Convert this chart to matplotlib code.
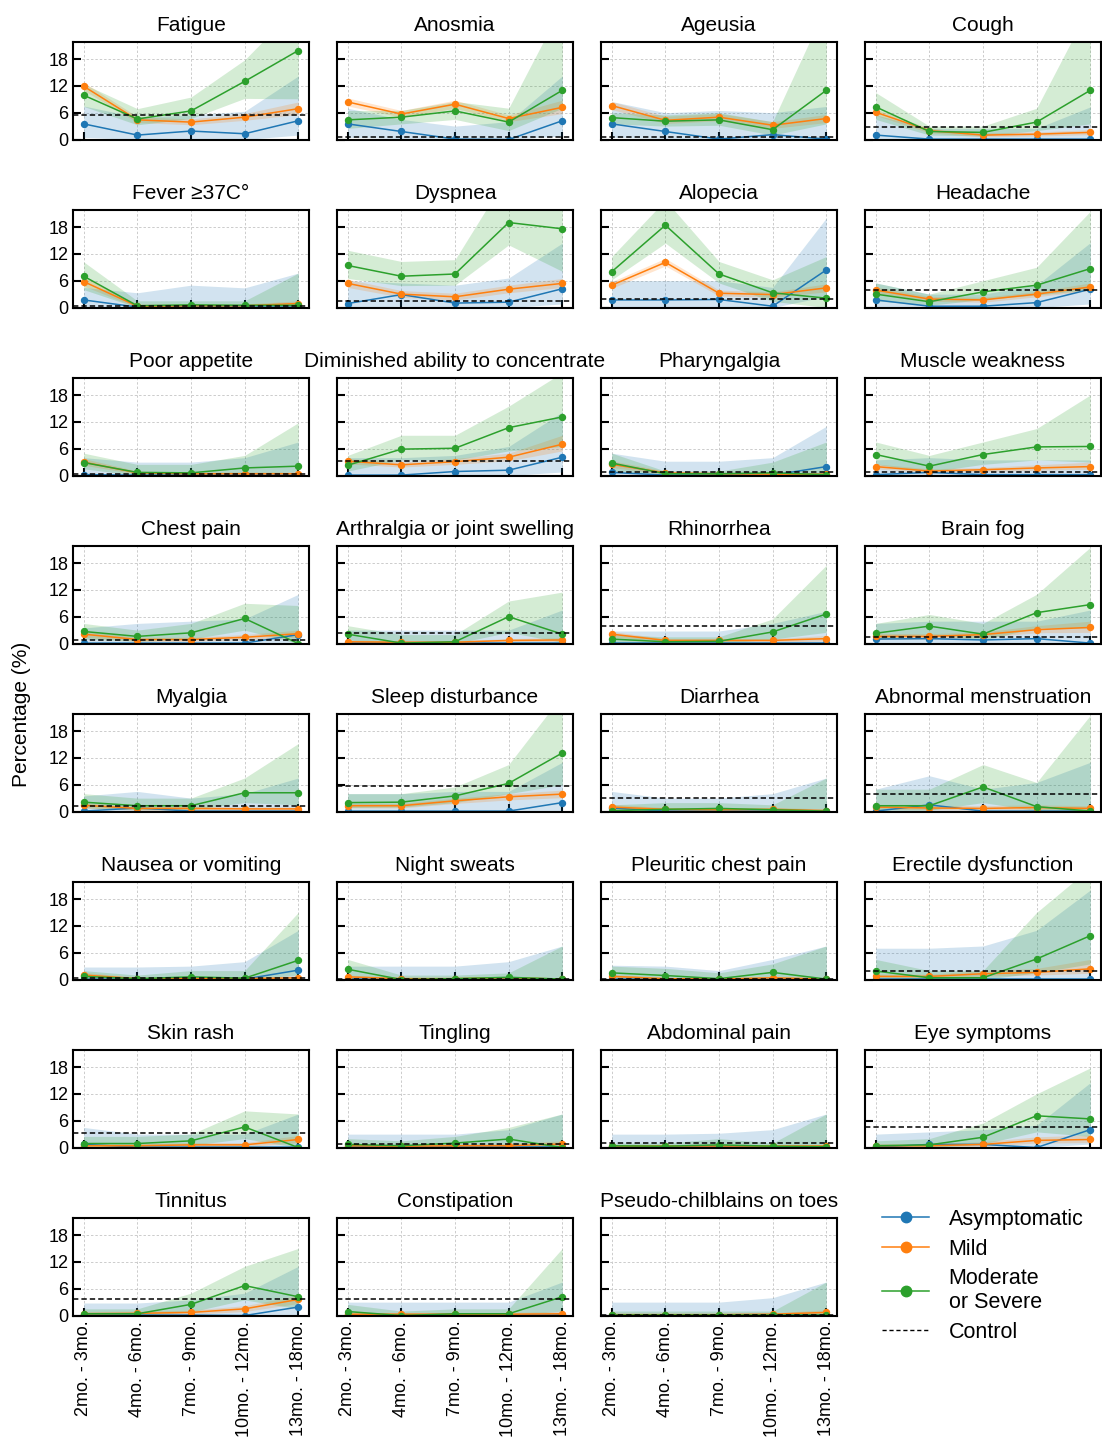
import matplotlib
matplotlib.use("Agg")
import matplotlib.pyplot as plt
from matplotlib.lines import Line2D

plt.rcParams['font.family'] = ['Liberation Sans', 'DejaVu Sans']

PERIODS = ["2mo. - 3mo.", "4mo. - 6mo.", "7mo. - 9mo.", "10mo. - 12mo.", "13mo. - 18mo."]

SYMPTOMS = ["Fatigue", "Anosmia", "Ageusia", "Cough",
            "Fever ≥37C°", "Dyspnea", "Alopecia", "Headache",
            "Poor appetite", "Diminished ability to concentrate", "Pharyngalgia", "Muscle weakness",
            "Chest pain", "Arthralgia or joint swelling", "Rhinorrhea", "Brain fog",
            "Myalgia", "Sleep disturbance", "Diarrhea", "Abnormal menstruation",
            "Nausea or vomiting", "Night sweats", "Pleuritic chest pain", "Erectile dysfunction",
            "Skin rash", "Tingling", "Abdominal pain", "Eye symptoms",
            "Tinnitus", "Constipation", "Pseudo-chilblains on toes"]

CONTROL = [5.4, 0.5, 0.6, 2.7,
           0.4, 1.5, 1.9, 4.0,
           0.3, 3.2, 0.9, 0.9,
           0.9, 2.4, 4.0, 1.4,
           1.3, 5.6, 3.0, 4.0,
           0.4, 0.2, 0.1, 1.9,
           3.2, 0.7, 1.0, 4.7,
           3.6, 3.7, 0.2]

ASYM = [[3.5, 1.0, 1.9, 1.3, 4.2], [3.5, 1.8, 0.1, 0.0, 4.2], [3.5, 1.8, 0.1, 1.1, 0.1], [1.0, 0.1, 0.1, 0.1, 0.1],
        [1.7, 0.1, 0.1, 0.1, 0.1], [0.9, 2.9, 1.0, 1.2, 4.2], [1.7, 1.7, 1.8, 0.3, 8.4], [1.7, 0.3, 0.3, 1.1, 4.1],
        [0.2, 0.1, 0.1, 0.1, 0.1], [0.1, 0.1, 0.9, 1.2, 4.1], [0.7, 0.1, 0.1, 0.1, 2.0], [0.2, 0.7, 0.2, 0.2, 0.2],
        [0.1, 0.1, 0.1, 0.1, 2.0], [0.1, 0.1, 0.1, 0.1, 0.1], [0.1, 0.1, 0.1, 0.1, 0.1], [1.0, 1.1, 0.8, 1.1, 0.1],
        [0.1, 0.8, 0.1, 0.1, 0.1], [0.1, 0.1, 0.1, 0.1, 2.0], [0.8, 0.1, 0.1, 0.1, 0.1], [0.1, 1.5, 0.1, 0.1, 0.1],
        [0.1, 0.1, 0.1, 0.1, 2.1], [0.05, 0.05, 0.05, 0.05, 0.05], [0.05, 0.05, 0.05, 0.05, 0.05], [0.1, 0.1, 0.1, 0.1, 0.1],
        [0.7, 0.1, 0.1, 0.1, 0.1], [0.1, 0.1, 0.1, 0.1, 0.1], [0.05, 0.05, 0.05, 0.05, 0.05], [0.1, 0.7, 0.7, 0.0, 4.0],
        [0.1, 0.1, 0.1, 0.0, 1.9], [0.1, 0.1, 0.1, 0.1, 0.1], [0.05, 0.05, 0.05, 0.05, 0.05]]

ASYM_HI = [[7.5, 5.0, 5.5, 6.3, 14.2], [7.0, 4.5, 3.0, 4.0, 14.2], [8.5, 6.0, 6.5, 6.0, 7.4], [5.5, 2.5, 2.5, 2.5, 7.3],
           [4.5, 3.3, 5.0, 4.4, 7.7], [6.0, 5.5, 5.0, 6.6, 14.4], [6.0, 6.0, 6.0, 4.5, 20.0], [5.5, 3.0, 3.0, 5.0, 14.5],
           [4.0, 3.0, 3.0, 4.0, 7.5], [4.0, 4.0, 4.5, 6.5, 14.2], [5.0, 3.2, 3.2, 4.0, 11.0], [3.5, 4.0, 3.5, 3.5, 3.5],
           [3.5, 4.5, 5.0, 5.5, 11.0], [3.0, 3.0, 3.0, 3.0, 7.5], [2.8, 2.8, 2.8, 4.5, 7.2], [4.5, 5.0, 5.0, 5.0, 7.5],
           [3.5, 4.5, 3.0, 4.0, 7.5], [4.0, 4.0, 4.5, 4.5, 11.0], [4.5, 3.0, 3.0, 4.0, 7.5], [5.0, 8.0, 5.0, 6.5, 11.0],
           [2.8, 2.8, 3.0, 4.0, 11.0], [3.0, 3.0, 3.0, 4.0, 7.5], [3.2, 3.0, 2.0, 4.5, 7.5], [7.0, 7.0, 7.5, 11.0, 20.0],
           [4.5, 3.0, 3.0, 3.0, 7.5], [3.0, 3.0, 3.0, 4.0, 7.5], [3.0, 3.0, 3.2, 4.0, 7.5], [3.0, 3.5, 4.0, 5.0, 14.5],
           [2.8, 2.8, 3.5, 5.0, 11.0], [3.0, 3.0, 3.0, 3.0, 7.5], [3.0, 3.0, 3.0, 4.0, 7.5]]

ASYM_LO = [[0.5, 0.0, 0.2, 0.0, 1.0], [0.5, 0.2, 0.0, 0.0, 0.8], [0.5, 0.2, 0.0, 0.0, 0.0], [0.0, 0.0, 0.0, 0.0, 0.0],
           [0.0, 0.0, 0.0, 0.0, 0.0], [0.0, 0.3, 0.0, 0.0, 0.8], [0.2, 0.2, 0.2, 0.0, 2.5], [0.2, 0.0, 0.0, 0.0, 0.8],
           [0.0, 0.0, 0.0, 0.0, 0.0], [0.0, 0.0, 0.0, 0.0, 0.8], [0.0, 0.0, 0.0, 0.0, 0.2], [0.0, 0.0, 0.0, 0.0, 0.0],
           [0.0, 0.0, 0.0, 0.0, 0.2], [0.0, 0.0, 0.0, 0.0, 0.0], [0.0, 0.0, 0.0, 0.0, 0.0], [0.0, 0.0, 0.0, 0.0, 0.0],
           [0.0, 0.0, 0.0, 0.0, 0.0], [0.0, 0.0, 0.0, 0.0, 0.2], [0.0, 0.0, 0.0, 0.0, 0.0], [0.0, 0.0, 0.0, 0.0, 0.0],
           [0.0, 0.0, 0.0, 0.0, 0.2], [0.0, 0.0, 0.0, 0.0, 0.0], [0.0, 0.0, 0.0, 0.0, 0.0], [0.0, 0.0, 0.0, 0.0, 0.0],
           [0.0, 0.0, 0.0, 0.0, 0.0], [0.0, 0.0, 0.0, 0.0, 0.0], [0.0, 0.0, 0.0, 0.0, 0.0], [0.0, 0.0, 0.0, 0.0, 0.8],
           [0.0, 0.0, 0.0, 0.0, 0.2], [0.0, 0.0, 0.0, 0.0, 0.0], [0.0, 0.0, 0.0, 0.0, 0.0]]

MILD = [[11.9, 4.4, 3.9, 5.0, 6.9], [8.4, 5.7, 7.9, 4.7, 7.2], [7.6, 4.3, 5.0, 3.2, 4.7], [6.1, 2.0, 1.0, 1.2, 1.6],
        [5.8, 0.3, 0.4, 0.4, 0.9], [5.4, 3.0, 2.4, 4.1, 5.4], [5.0, 10.1, 3.2, 2.9, 4.4], [3.9, 1.9, 1.7, 3.0, 4.6],
        [3.0, 0.6, 0.4, 0.4, 0.4], [3.2, 2.4, 3.1, 4.1, 7.0], [2.5, 0.6, 0.4, 0.3, 0.3], [2.0, 1.0, 1.3, 1.7, 2.0],
        [2.1, 0.9, 0.9, 1.4, 2.2], [0.4, 0.3, 0.3, 0.7, 0.8], [2.1, 0.7, 0.7, 0.7, 1.1], [1.6, 1.6, 2.0, 3.1, 3.6],
        [1.4, 0.7, 0.7, 0.6, 0.6], [1.3, 1.3, 2.4, 3.3, 3.9], [1.0, 0.5, 0.4, 0.5, 0.2], [1.0, 0.8, 0.7, 0.9, 0.7],
        [1.0, 0.2, 0.2, 0.2, 0.4], [0.6, 0.2, 0.2, 0.4, 0.1], [0.7, 0.2, 0.1, 0.4, 0.1], [0.7, 0.7, 1.3, 1.6, 2.4],
        [0.4, 0.4, 0.6, 0.6, 1.8], [0.4, 0.3, 0.4, 0.4, 0.8], [0.3, 0.3, 0.3, 0.3, 0.3], [0.4, 0.4, 0.7, 1.6, 1.8],
        [0.4, 0.5, 0.7, 1.5, 3.6], [0.3, 0.3, 0.3, 0.3, 0.4], [0.2, 0.2, 0.2, 0.3, 0.7]]

MILD_HI = [[12.8, 5.1, 4.6, 5.8, 8.4], [9.3, 6.5, 8.8, 5.5, 8.8], [8.5, 5.2, 5.8, 4.0, 5.6], [6.8, 2.5, 1.5, 1.7, 2.2],
           [6.8, 0.8, 0.8, 0.8, 1.5], [6.3, 3.8, 3.2, 5.0, 6.5], [5.8, 11.0, 3.9, 3.5, 5.3], [4.6, 2.5, 2.3, 3.6, 5.5],
           [3.8, 1.0, 0.8, 0.8, 0.8], [3.8, 3.0, 3.8, 5.0, 9.0], [3.3, 1.0, 0.8, 0.7, 0.7], [2.6, 1.5, 1.8, 2.4, 3.0],
           [2.8, 1.4, 1.4, 2.0, 3.0], [0.8, 0.6, 0.6, 1.1, 1.3], [2.7, 1.1, 1.1, 1.1, 1.8], [2.3, 2.2, 2.6, 4.0, 5.0],
           [2.0, 1.1, 1.1, 1.0, 1.0], [1.8, 1.8, 3.0, 4.0, 4.8], [1.6, 0.9, 0.8, 0.9, 0.6], [1.6, 1.4, 1.3, 1.5, 1.3],
           [1.6, 0.5, 0.5, 0.5, 0.8], [1.0, 0.5, 0.5, 0.7, 0.4], [1.1, 0.5, 0.4, 0.7, 0.4], [1.2, 1.2, 2.0, 2.5, 4.5],
           [0.9, 0.9, 1.1, 1.1, 2.7], [0.9, 0.7, 0.8, 0.9, 1.5], [0.6, 0.6, 0.6, 0.6, 0.6], [0.9, 0.9, 1.3, 2.4, 2.8],
           [0.9, 1.0, 1.2, 2.2, 4.5], [0.7, 0.7, 0.7, 0.7, 0.9], [0.5, 0.5, 0.5, 0.6, 1.3]]

MILD_LO = [[11.0, 3.8, 3.3, 4.3, 5.6], [7.5, 5.0, 7.0, 4.0, 5.8], [6.7, 3.6, 4.2, 2.5, 3.8], [5.4, 1.5, 0.6, 0.8, 1.1],
           [4.8, 0.0, 0.1, 0.1, 0.4], [4.5, 2.3, 1.7, 3.3, 4.5], [4.3, 9.3, 2.6, 2.3, 3.5], [3.2, 1.4, 1.2, 2.4, 3.8],
           [2.3, 0.3, 0.2, 0.2, 0.2], [2.6, 1.9, 2.5, 3.3, 5.5], [1.8, 0.3, 0.2, 0.1, 0.1], [1.5, 0.6, 0.9, 1.2, 1.4],
           [1.4, 0.5, 0.5, 0.9, 1.4], [0.1, 0.1, 0.1, 0.4, 0.4], [1.5, 0.3, 0.3, 0.3, 0.6], [1.0, 1.0, 1.4, 2.4, 2.5],
           [0.8, 0.3, 0.3, 0.3, 0.3], [0.8, 0.8, 1.8, 2.6, 3.1], [0.6, 0.2, 0.2, 0.2, 0.05], [0.5, 0.4, 0.3, 0.4, 0.3],
           [0.5, 0.05, 0.05, 0.05, 0.1], [0.3, 0.05, 0.05, 0.1, 0.02], [0.4, 0.05, 0.02, 0.2, 0.02], [0.3, 0.3, 0.8, 1.0, 1.4],
           [0.1, 0.1, 0.2, 0.2, 1.1], [0.1, 0.05, 0.1, 0.1, 0.3], [0.05, 0.05, 0.05, 0.05, 0.05], [0.1, 0.1, 0.3, 1.0, 1.1],
           [0.1, 0.2, 0.3, 0.9, 2.7], [0.05, 0.05, 0.05, 0.05, 0.1], [0.02, 0.02, 0.02, 0.05, 0.3]]

SEV = [[9.9, 4.6, 6.4, 13.0, 19.9], [4.4, 5.0, 6.4, 3.9, 11.0], [4.9, 4.1, 4.4, 2.2, 11.0], [7.3, 1.8, 1.6, 3.9, 11.0],
       [7.0, 0.4, 0.6, 0.5, 0.5], [9.4, 7.0, 7.5, 19.0, 17.6], [8.0, 18.4, 7.5, 3.3, 2.1], [3.0, 1.3, 3.5, 5.0, 8.7],
       [2.9, 0.7, 0.6, 1.7, 2.1], [2.3, 5.9, 6.1, 10.7, 13.1], [2.8, 0.4, 0.4, 0.6, 0.2], [4.7, 2.1, 4.7, 6.4, 6.5],
       [2.7, 1.6, 2.4, 5.6, 0.0], [2.1, 0.1, 0.4, 6.0, 2.1], [1.0, 0.4, 0.5, 2.6, 6.6], [2.3, 3.9, 2.1, 6.9, 8.7],
       [2.1, 1.3, 1.3, 4.2, 4.2], [2.0, 2.1, 3.5, 6.3, 13.1], [0.2, 0.5, 0.7, 0.4, 0.1], [1.3, 1.3, 5.5, 1.1, 0.1],
       [0.7, 0.2, 0.6, 0.3, 4.3], [2.3, 0.0, 0.2, 0.5, 0.1], [1.5, 0.9, 0.2, 1.6, 0.1], [1.9, 0.4, 0.4, 4.6, 9.8],
       [0.9, 0.9, 1.5, 4.6, 0.0], [0.7, 0.4, 1.0, 1.9, 0.0], [0.4, 0.3, 0.6, 0.3, 0.2], [0.4, 0.6, 2.3, 7.1, 6.4],
       [0.4, 0.4, 2.5, 6.7, 4.2], [0.9, 0.0, 0.4, 0.4, 4.2], [0.1, 0.1, 0.1, 0.1, 0.1]]

SEV_HI = [[12.4, 6.9, 9.5, 17.8, 30.0], [6.5, 6.5, 8.5, 7.0, 30.0], [6.0, 5.5, 6.0, 4.0, 30.0], [10.5, 3.0, 3.0, 7.0, 30.0],
          [10.2, 1.5, 1.5, 1.5, 7.7], [12.8, 10.3, 10.7, 30.0, 30.0], [11.4, 24.0, 10.3, 6.2, 11.4], [5.5, 3.0, 6.0, 9.0, 21.5],
          [5.0, 2.5, 2.5, 4.5, 11.8], [4.5, 9.0, 9.0, 15.5, 23.0], [5.0, 1.0, 1.0, 3.0, 7.5], [7.5, 4.5, 7.5, 10.5, 18.0],
          [4.5, 3.0, 4.5, 9.0, 8.5], [4.0, 2.0, 2.0, 9.5, 11.5], [2.0, 1.5, 1.5, 5.5, 17.5], [4.5, 6.5, 4.5, 11.0, 21.5],
          [4.0, 3.0, 3.0, 7.5, 15.2], [4.0, 4.0, 5.5, 10.5, 26.0], [1.5, 2.0, 2.0, 1.5, 7.5], [5.0, 5.0, 10.5, 6.5, 21.5],
          [2.0, 1.0, 2.0, 2.0, 15.0], [4.5, 1.0, 1.0, 1.5, 7.5], [3.0, 2.5, 1.5, 3.5, 7.5], [4.5, 2.0, 2.0, 15.0, 25.0],
          [2.5, 2.5, 3.0, 8.2, 7.5], [2.0, 1.5, 2.5, 4.5, 7.5], [1.0, 1.0, 2.0, 1.0, 7.5], [1.5, 2.0, 5.5, 12.0, 17.8],
          [1.5, 1.5, 5.0, 11.0, 15.0], [2.5, 1.0, 1.5, 1.5, 15.0], [1.0, 1.0, 1.0, 1.0, 7.5]]

SEV_LO = [[7.4, 3.3, 4.7, 9.2, 9.1], [2.5, 3.5, 4.5, 2.0, 7.0], [3.5, 3.0, 3.2, 1.0, 3.5], [4.5, 1.0, 0.8, 2.0, 3.5],
          [4.0, 0.0, 0.0, 0.0, 0.0], [6.5, 4.9, 5.0, 14.0, 8.1], [6.2, 14.4, 5.5, 1.4, 0.0], [1.5, 0.5, 1.8, 2.8, 4.0],
          [1.5, 0.0, 0.0, 0.5, 0.8], [1.0, 3.5, 3.5, 5.5, 6.5], [1.0, 0.0, 0.0, 0.0, 0.0], [2.5, 0.8, 2.5, 3.5, 3.0],
          [1.0, 0.5, 1.0, 3.0, 0.0], [0.8, 0.0, 0.0, 2.5, 0.3], [0.3, 0.0, 0.0, 1.0, 2.5], [1.0, 2.0, 0.8, 3.5, 3.5],
          [0.8, 0.4, 0.4, 2.0, 1.5], [0.9, 1.0, 2.0, 4.0, 6.0], [0.0, 0.0, 0.0, 0.0, 0.0], [0.3, 0.3, 2.0, 0.2, 0.0],
          [0.0, 0.0, 0.0, 0.0, 1.0], [0.8, 0.0, 0.0, 0.0, 0.0], [0.5, 0.2, 0.0, 0.5, 0.0], [0.5, 0.0, 0.0, 1.5, 3.5],
          [0.2, 0.2, 0.5, 2.0, 0.0], [0.1, 0.0, 0.2, 0.5, 0.0], [0.0, 0.0, 0.0, 0.0, 0.0], [0.0, 0.0, 0.8, 3.5, 2.5],
          [0.0, 0.0, 0.8, 3.5, 1.5], [0.2, 0.0, 0.0, 0.0, 1.0], [0.0, 0.0, 0.0, 0.0, 0.0]]

GROUPS = ["Asymptomatic", "Mild", "Moderate\nor Severe"]
COLORS = ["#1f77b4", "#ff7f0e", "#2ca02c"]

W, H = 1102, 1448
fig = plt.figure(figsize=(W / 100, H / 100), dpi=100)

col_left = [73, 337, 601, 865]
ax_w = 236
ax_h = 98
row_top0 = 42
row_pitch = 168

series = [(ASYM, ASYM_LO, ASYM_HI), (MILD, MILD_LO, MILD_HI), (SEV, SEV_LO, SEV_HI)]
x = list(range(len(PERIODS)))

for i, name in enumerate(SYMPTOMS):
    r, c = divmod(i, 4)
    top = row_top0 + r * row_pitch
    ax = fig.add_axes([col_left[c] / W, 1 - (top + ax_h) / H, ax_w / W, ax_h / H])
    for (mean, lo, hi), col in zip(series, COLORS):
        ax.fill_between(x, lo[i], hi[i], color=col, alpha=0.2, linewidth=0)
    for (mean, lo, hi), col in zip(series, COLORS):
        ax.plot(x, mean[i], color=col, marker='o', markersize=4.3, linewidth=1.1)
    ax.axhline(CONTROL[i], color='black', linestyle='--', linewidth=1.1, dashes=(3.5, 2))
    ax.set_xlim(-0.2, 4.2)
    ax.set_ylim(-0.1, 21.8)
    ax.set_yticks([0, 6, 12, 18])
    ax.set_xticks(x)
    ax.grid(True, color='#cccccc', linestyle=(0, (2.5, 2)), linewidth=0.7)
    ax.set_axisbelow(True)
    ax.tick_params(direction='in', length=6, width=1.5, labelsize=13)
    for sp in ax.spines.values():
        sp.set_linewidth(1.5)
    ax.set_title(name, fontsize=15, pad=8)
    if c != 0:
        ax.set_yticklabels([])
    if r == 7:
        ax.set_xticklabels(PERIODS, rotation=90)
    else:
        ax.set_xticklabels([])

fig.text(22 / W, 1 - 714 / H, "Percentage (%)", rotation=90, fontsize=15, va='center', ha='center')

handles = [Line2D([0], [0], color=col, marker='o', markersize=7.5, linewidth=1.1) for col in COLORS]
handles.append(Line2D([0], [0], color='black', linestyle='--', linewidth=1.0, dashes=(3, 2)))
fig.legend(handles, GROUPS + ["Control"], loc='upper left', bbox_to_anchor=(882 / W, 1 - 1209 / H),
           frameon=False, fontsize=15.5, handlelength=2.2, handletextpad=0.9, labelspacing=0.4,
           borderaxespad=0, borderpad=0)

fig.savefig("out.png", dpi=100)
